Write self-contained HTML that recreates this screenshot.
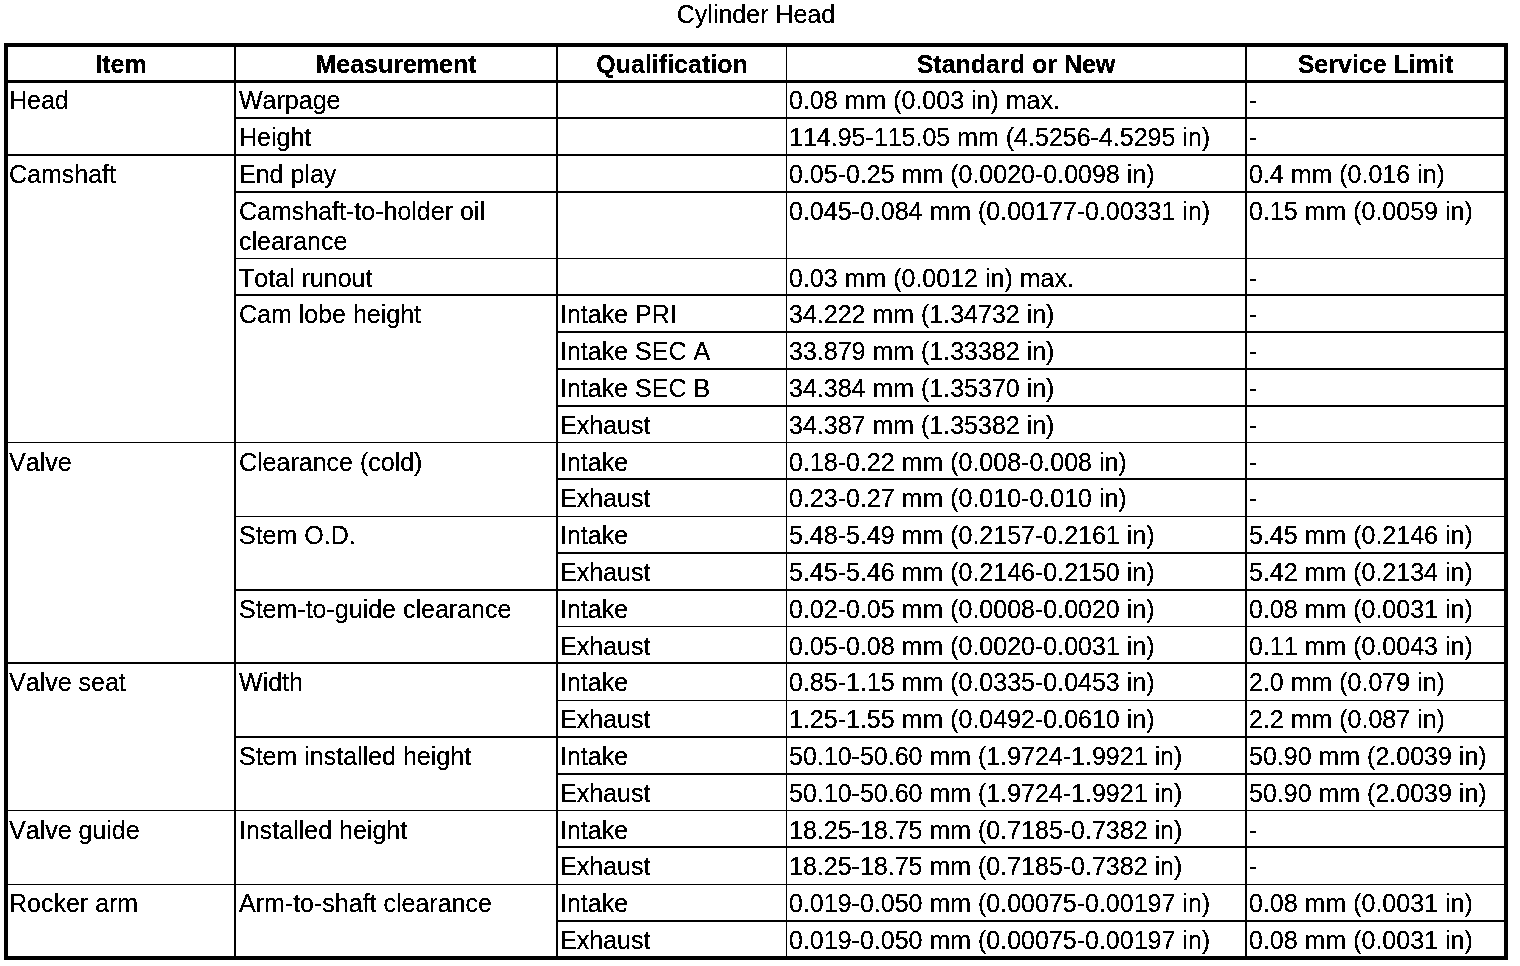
<!DOCTYPE html>
<html lang="en">
<head>
<meta charset="utf-8">
<title>Cylinder Head</title>
<style>
html,body{margin:0;padding:0;background:#fff;}
body{width:1520px;height:966px;position:relative;overflow:hidden;
 font-family:"Liberation Sans",sans-serif;font-size:25px;line-height:30px;color:#000;font-kerning:none;font-variant-ligatures:none;}
#pg{position:absolute;left:0;top:0;width:1520px;height:966px;background:#fff;filter:url(#bw);}
.l{position:absolute;background:#000;}
.t{position:absolute;white-space:nowrap;height:30px;}
.h{position:absolute;white-space:nowrap;height:30px;font-weight:bold;text-align:center;}
#ttl{position:absolute;left:4px;width:1504px;text-align:center;white-space:nowrap;}
</style>
</head>
<body>
<svg width="0" height="0" style="position:absolute" aria-hidden="true">
<filter id="bw" x="0" y="0" width="100%" height="100%" color-interpolation-filters="sRGB">
<feColorMatrix type="matrix" values="0.333 0.333 0.334 0 0  0.333 0.333 0.334 0 0  0.333 0.333 0.334 0 0  0 0 0 1 0"/>
<feComponentTransfer>
<feFuncR type="discrete" tableValues="0 0 0 0 0 0 0 0 0 0 0 0 0 1 1 1 1 1 1 1"/>
<feFuncG type="discrete" tableValues="0 0 0 0 0 0 0 0 0 0 0 0 0 1 1 1 1 1 1 1"/>
<feFuncB type="discrete" tableValues="0 0 0 0 0 0 0 0 0 0 0 0 0 1 1 1 1 1 1 1"/>
</feComponentTransfer>
</filter>
</svg>
<div id="pg">
<div id="ttl" style="top:-1px">Cylinder Head</div>
<div class="l" style="left:4px;top:43px;width:1504px;height:4px"></div>
<div class="l" style="left:4px;top:956px;width:1504px;height:4px"></div>
<div class="l" style="left:4px;top:43px;width:4px;height:917px"></div>
<div class="l" style="left:1504px;top:43px;width:4px;height:917px"></div>
<div class="l" style="left:234px;top:47px;width:2px;height:909px"></div>
<div class="l" style="left:556px;top:47px;width:2px;height:909px"></div>
<div class="l" style="left:786px;top:47px;width:1px;height:909px"></div>
<div class="l" style="left:1245px;top:47px;width:2px;height:909px"></div>
<div class="l" style="left:8px;top:80px;width:1496px;height:3px"></div>
<div class="l" style="left:234px;top:117px;width:1270px;height:2px"></div>
<div class="l" style="left:8px;top:154px;width:1496px;height:2px"></div>
<div class="l" style="left:234px;top:191px;width:1270px;height:2px"></div>
<div class="l" style="left:234px;top:258px;width:1270px;height:1px"></div>
<div class="l" style="left:234px;top:294px;width:1270px;height:2px"></div>
<div class="l" style="left:556px;top:331px;width:948px;height:2px"></div>
<div class="l" style="left:556px;top:368px;width:948px;height:2px"></div>
<div class="l" style="left:556px;top:405px;width:948px;height:2px"></div>
<div class="l" style="left:8px;top:442px;width:1496px;height:1px"></div>
<div class="l" style="left:556px;top:478px;width:948px;height:2px"></div>
<div class="l" style="left:234px;top:516px;width:1270px;height:1px"></div>
<div class="l" style="left:556px;top:552px;width:948px;height:2px"></div>
<div class="l" style="left:234px;top:589px;width:1270px;height:2px"></div>
<div class="l" style="left:556px;top:626px;width:948px;height:1px"></div>
<div class="l" style="left:8px;top:662px;width:1496px;height:2px"></div>
<div class="l" style="left:556px;top:700px;width:948px;height:1px"></div>
<div class="l" style="left:234px;top:736px;width:1270px;height:2px"></div>
<div class="l" style="left:556px;top:773px;width:948px;height:2px"></div>
<div class="l" style="left:8px;top:810px;width:1496px;height:1px"></div>
<div class="l" style="left:556px;top:846px;width:948px;height:2px"></div>
<div class="l" style="left:8px;top:884px;width:1496px;height:1px"></div>
<div class="l" style="left:556px;top:920px;width:948px;height:2px"></div>
<div class="h" style="left:8px;width:226px;top:49px">Item</div>
<div class="h" style="left:236px;width:320px;top:49px">Measurement</div>
<div class="h" style="left:558px;width:228px;top:49px">Qualification</div>
<div class="h" style="left:787px;width:458px;top:49px">Standard or New</div>
<div class="h" style="left:1247px;width:257px;top:49px">Service Limit</div>
<div class="t" style="left:9px;top:85px">Head</div>
<div class="t" style="left:239px;top:85px">Warpage</div>
<div class="t" style="left:789px;top:85px">0.08 mm (0.003 in) max.</div>
<div class="t" style="left:1249px;top:85px">-</div>
<div class="t" style="left:239px;top:122px">Height</div>
<div class="t" style="left:789px;top:122px">114.95-115.05 mm (4.5256-4.5295 in)</div>
<div class="t" style="left:1249px;top:122px">-</div>
<div class="t" style="left:9px;top:159px">Camshaft</div>
<div class="t" style="left:239px;top:159px">End play</div>
<div class="t" style="left:789px;top:159px">0.05-0.25 mm (0.0020-0.0098 in)</div>
<div class="t" style="left:1249px;top:159px">0.4 mm (0.016 in)</div>
<div class="t" style="left:239px;top:196px">Camshaft-to-holder oil</div>
<div class="t" style="left:239px;top:226px">clearance</div>
<div class="t" style="left:789px;top:196px">0.045-0.084 mm (0.00177-0.00331 in)</div>
<div class="t" style="left:1249px;top:196px">0.15 mm (0.0059 in)</div>
<div class="t" style="left:239px;top:263px">Total runout</div>
<div class="t" style="left:789px;top:263px">0.03 mm (0.0012 in) max.</div>
<div class="t" style="left:1249px;top:263px">-</div>
<div class="t" style="left:239px;top:299px">Cam lobe height</div>
<div class="t" style="left:560px;top:299px">Intake PRI</div>
<div class="t" style="left:789px;top:299px">34.222 mm (1.34732 in)</div>
<div class="t" style="left:1249px;top:299px">-</div>
<div class="t" style="left:560px;top:336px">Intake SEC A</div>
<div class="t" style="left:789px;top:336px">33.879 mm (1.33382 in)</div>
<div class="t" style="left:1249px;top:336px">-</div>
<div class="t" style="left:560px;top:373px">Intake SEC B</div>
<div class="t" style="left:789px;top:373px">34.384 mm (1.35370 in)</div>
<div class="t" style="left:1249px;top:373px">-</div>
<div class="t" style="left:560px;top:410px">Exhaust</div>
<div class="t" style="left:789px;top:410px">34.387 mm (1.35382 in)</div>
<div class="t" style="left:1249px;top:410px">-</div>
<div class="t" style="left:9px;top:447px">Valve</div>
<div class="t" style="left:239px;top:447px">Clearance (cold)</div>
<div class="t" style="left:560px;top:447px">Intake</div>
<div class="t" style="left:789px;top:447px">0.18-0.22 mm (0.008-0.008 in)</div>
<div class="t" style="left:1249px;top:447px">-</div>
<div class="t" style="left:560px;top:483px">Exhaust</div>
<div class="t" style="left:789px;top:483px">0.23-0.27 mm (0.010-0.010 in)</div>
<div class="t" style="left:1249px;top:483px">-</div>
<div class="t" style="left:239px;top:520px">Stem O.D.</div>
<div class="t" style="left:560px;top:520px">Intake</div>
<div class="t" style="left:789px;top:520px">5.48-5.49 mm (0.2157-0.2161 in)</div>
<div class="t" style="left:1249px;top:520px">5.45 mm (0.2146 in)</div>
<div class="t" style="left:560px;top:557px">Exhaust</div>
<div class="t" style="left:789px;top:557px">5.45-5.46 mm (0.2146-0.2150 in)</div>
<div class="t" style="left:1249px;top:557px">5.42 mm (0.2134 in)</div>
<div class="t" style="left:239px;top:594px">Stem-to-guide clearance</div>
<div class="t" style="left:560px;top:594px">Intake</div>
<div class="t" style="left:789px;top:594px">0.02-0.05 mm (0.0008-0.0020 in)</div>
<div class="t" style="left:1249px;top:594px">0.08 mm (0.0031 in)</div>
<div class="t" style="left:560px;top:631px">Exhaust</div>
<div class="t" style="left:789px;top:631px">0.05-0.08 mm (0.0020-0.0031 in)</div>
<div class="t" style="left:1249px;top:631px">0.11 mm (0.0043 in)</div>
<div class="t" style="left:9px;top:667px">Valve seat</div>
<div class="t" style="left:239px;top:667px">Width</div>
<div class="t" style="left:560px;top:667px">Intake</div>
<div class="t" style="left:789px;top:667px">0.85-1.15 mm (0.0335-0.0453 in)</div>
<div class="t" style="left:1249px;top:667px">2.0 mm (0.079 in)</div>
<div class="t" style="left:560px;top:704px">Exhaust</div>
<div class="t" style="left:789px;top:704px">1.25-1.55 mm (0.0492-0.0610 in)</div>
<div class="t" style="left:1249px;top:704px">2.2 mm (0.087 in)</div>
<div class="t" style="left:239px;top:741px">Stem installed height</div>
<div class="t" style="left:560px;top:741px">Intake</div>
<div class="t" style="left:789px;top:741px">50.10-50.60 mm (1.9724-1.9921 in)</div>
<div class="t" style="left:1249px;top:741px">50.90 mm (2.0039 in)</div>
<div class="t" style="left:560px;top:778px">Exhaust</div>
<div class="t" style="left:789px;top:778px">50.10-50.60 mm (1.9724-1.9921 in)</div>
<div class="t" style="left:1249px;top:778px">50.90 mm (2.0039 in)</div>
<div class="t" style="left:9px;top:815px">Valve guide</div>
<div class="t" style="left:239px;top:815px">Installed height</div>
<div class="t" style="left:560px;top:815px">Intake</div>
<div class="t" style="left:789px;top:815px">18.25-18.75 mm (0.7185-0.7382 in)</div>
<div class="t" style="left:1249px;top:815px">-</div>
<div class="t" style="left:560px;top:851px">Exhaust</div>
<div class="t" style="left:789px;top:851px">18.25-18.75 mm (0.7185-0.7382 in)</div>
<div class="t" style="left:1249px;top:851px">-</div>
<div class="t" style="left:9px;top:888px">Rocker arm</div>
<div class="t" style="left:239px;top:888px">Arm-to-shaft clearance</div>
<div class="t" style="left:560px;top:888px">Intake</div>
<div class="t" style="left:789px;top:888px">0.019-0.050 mm (0.00075-0.00197 in)</div>
<div class="t" style="left:1249px;top:888px">0.08 mm (0.0031 in)</div>
<div class="t" style="left:560px;top:925px">Exhaust</div>
<div class="t" style="left:789px;top:925px">0.019-0.050 mm (0.00075-0.00197 in)</div>
<div class="t" style="left:1249px;top:925px">0.08 mm (0.0031 in)</div>
</div>
</body>
</html>
